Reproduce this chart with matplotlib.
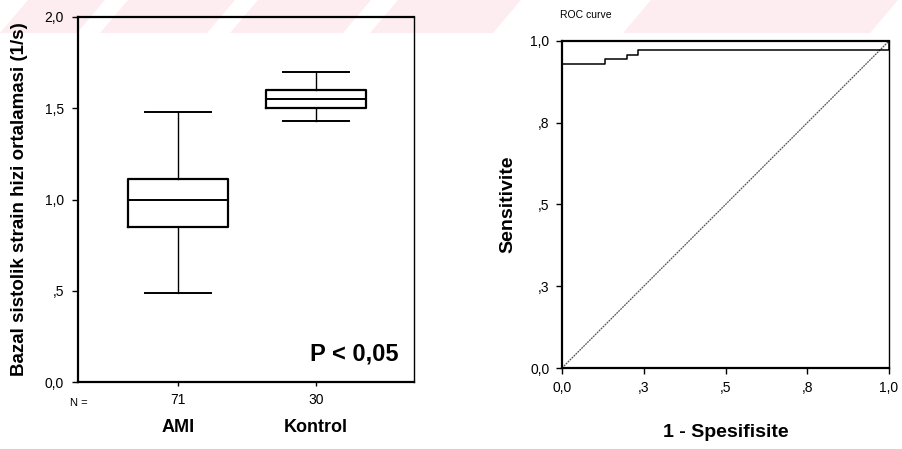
import matplotlib.pyplot as plt
from matplotlib.patches import Polygon
from matplotlib.ticker import FixedLocator

plt.rcParams["font.family"] = ["Liberation Sans", "DejaVu Sans"]

# box plot summary (strain rate, 1/s)
groups = ["AMI", "Kontrol"]
counts = [71, 30]
whis_low = [0.49, 1.43]
q1 = [0.85, 1.50]
median = [1.00, 1.55]
q3 = [1.11, 1.60]
whis_high = [1.48, 1.70]

# ROC curve vertices (step plot)
fpr = [0.0, 0.0, 0.133, 0.200, 0.233, 1.0]
tpr = [0.0, 0.930, 0.944, 0.958, 0.972, 1.0]

y_ticks = [0.0, 0.5, 1.0, 1.5, 2.0]
y_tick_labels = ["0,0", ",5", "1,0", "1,5", "2,0"]
roc_ticks = [0.0, 0.25, 0.5, 0.75, 1.0]
roc_tick_labels = ["0,0", ",3", ",5", ",8", "1,0"]

W, H = 903, 449
fig = plt.figure(figsize=(W / 100, H / 100), dpi=100)

# faint pink band along the top, behind everything
band = [(0, 77), (100, 207), (230, 343), (370, 493), (623, 870)]
for x0, x1 in band:
    pts = [(x0, 416), (x1, 416), (x1 + 28, 449), (x0 + 28, 449)]
    fig.patches.append(Polygon([(px / W, py / H) for px, py in pts], closed=True,
                               transform=fig.transFigure, facecolor="#fdedf0",
                               edgecolor="none", zorder=-5))

# ---- left: box plot ----
ax = fig.add_axes([78 / W, 67 / H, 336 / W, 365 / H])
ax.patch.set_alpha(0)
stats = []
for i in range(len(groups)):
    stats.append({"label": groups[i], "whislo": whis_low[i], "q1": q1[i], "med": median[i],
                  "q3": q3[i], "whishi": whis_high[i], "fliers": []})
ax.bxp(stats, positions=[1, 2], widths=0.72, showfliers=False,
       boxprops=dict(color="black", linewidth=1.6),
       medianprops=dict(color="black", linewidth=1.4),
       whiskerprops=dict(color="black", linewidth=1.0),
       capprops=dict(color="black", linewidth=1.4),
       capwidths=0.48)
ax.set_xlim(0.275, 2.71)
ax.set_ylim(0, 2.0)
ax.yaxis.set_major_locator(FixedLocator(y_ticks))
ax.set_yticklabels(y_tick_labels, fontsize=10)
ax.set_xticks([1, 2])
ax.set_xticklabels([str(c) for c in counts], fontsize=10)
ax.tick_params(axis="both", direction="out", length=4, width=1, pad=6)
ax.tick_params(axis="x", length=3, pad=5)
for s in ["left", "bottom", "top"]:
    ax.spines[s].set_linewidth(1.6)
ax.spines["right"].set_linewidth(1.0)
ax.set_ylabel("Bazal sistolik strain hizi ortalamasi (1/s)", fontsize=13.5,
              fontweight="bold", labelpad=12)
ax.text(0.003, -0.045, "N =", transform=ax.transAxes, fontsize=8, ha="center", va="top")
for pos, g in zip([1, 2], groups):
    ax.text(pos, -0.102, g, transform=ax.get_xaxis_transform(), fontsize=13,
            fontweight="bold", ha="center", va="top")
ax.text(0.955, 0.045, "P < 0,05", transform=ax.transAxes, fontsize=17,
        fontweight="bold", ha="right", va="bottom")

# ---- right: ROC curve ----
ax2 = fig.add_axes([562 / W, 81 / H, 327 / W, 327 / H])
ax2.patch.set_alpha(0)
ax2.plot([0, 1], [0, 1], color="#555555", linewidth=0.9, linestyle=(0, (1.5, 0.7)))
ax2.plot(fpr, tpr, drawstyle="steps-post", color="black", linewidth=1.1)
ax2.set_xlim(0, 1)
ax2.set_ylim(0, 1)
ax2.xaxis.set_major_locator(FixedLocator(roc_ticks))
ax2.yaxis.set_major_locator(FixedLocator(roc_ticks))
ax2.set_xticklabels(roc_tick_labels, fontsize=10)
ax2.set_yticklabels(roc_tick_labels, fontsize=10)
ax2.tick_params(axis="both", direction="out", length=4, width=1, pad=5)
for s in ["left", "bottom", "top"]:
    ax2.spines[s].set_linewidth(1.6)
ax2.spines["right"].set_linewidth(1.0)
ax2.set_ylabel("Sensitivite", fontsize=14, fontweight="bold", labelpad=10)
ax2.set_xlabel("1 - Spesifisite", fontsize=14, fontweight="bold", labelpad=21)
fig.text(560 / W, 1 - 15 / H, "ROC curve", fontsize=7.5, ha="left", va="center")

fig.savefig("out.png", dpi=100)
